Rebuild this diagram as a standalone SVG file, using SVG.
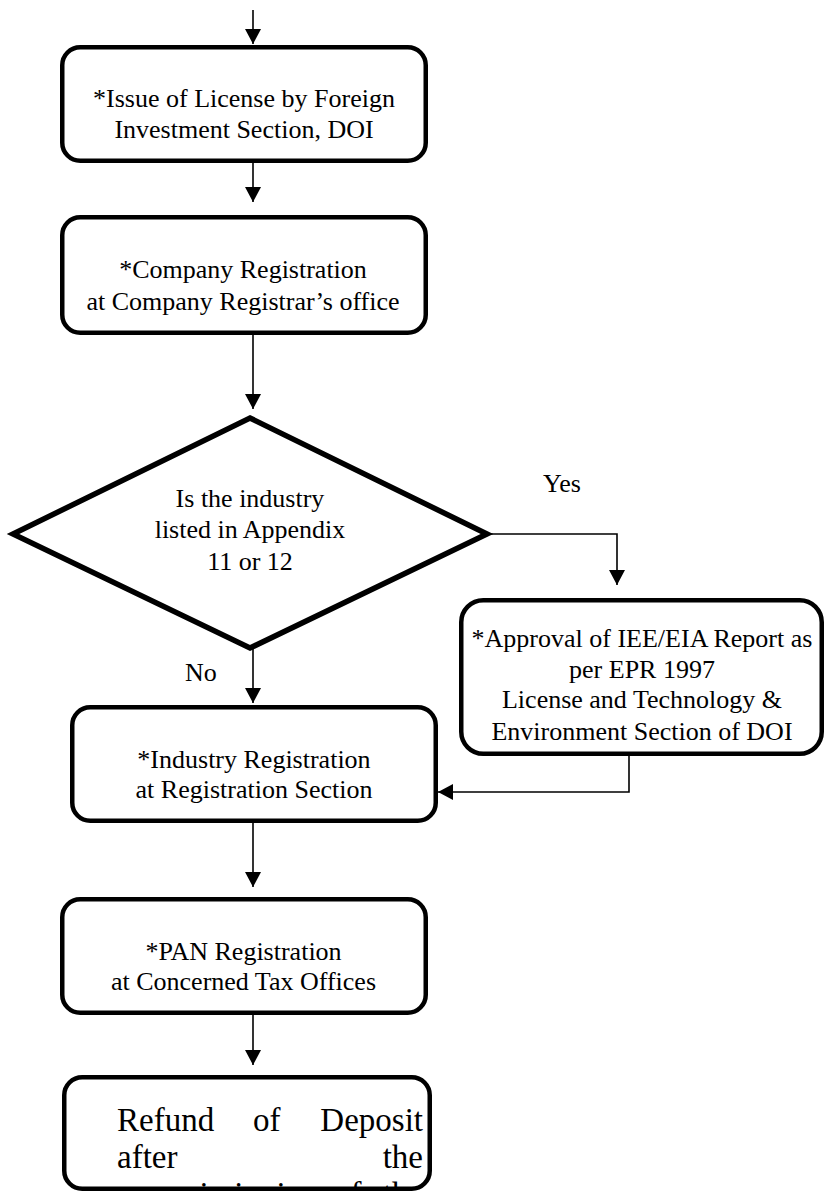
<svg xmlns="http://www.w3.org/2000/svg" width="825" height="1192" viewBox="0 0 825 1192">
<style>
.box{fill:#fff;stroke:#000;stroke-width:4.5}
.dia{fill:#fff;stroke:#000;stroke-width:5.5;stroke-linejoin:miter}
.t{font-family:"Liberation Serif","Times New Roman",serif;font-size:26px;fill:#000;text-anchor:middle}
.l{font-family:"Liberation Serif","Times New Roman",serif;font-size:26px;fill:#000}
.r{font-family:"Liberation Serif","Times New Roman",serif;font-size:33px;fill:#000}
.c{fill:none;stroke:#000;stroke-width:1.6}
</style>
<defs>
<marker id="ah" markerUnits="userSpaceOnUse" markerWidth="16" markerHeight="16" refX="15" refY="8" orient="auto">
<path d="M0,0 L15,8 L0,16 z" fill="#000"/>
</marker>
<clipPath id="rc"><rect x="66" y="1079" width="362" height="108"/></clipPath>
</defs>
<g id="connectors">
<path class="c" d="M253,10 V44" marker-end="url(#ah)"/>
<path class="c" d="M253,163 V202" marker-end="url(#ah)"/>
<path class="c" d="M253,335 V409" marker-end="url(#ah)"/>
<path class="c" d="M487,534 H617 V585" marker-end="url(#ah)"/>
<path class="c" d="M253,648 V703" marker-end="url(#ah)"/>
<path class="c" d="M629,756 V792 H438" marker-end="url(#ah)"/>
<path class="c" d="M253,823 V887" marker-end="url(#ah)"/>
<path class="c" d="M253,1015 V1065" marker-end="url(#ah)"/>
<text class="l" x="543" y="492">Yes</text>
<text class="l" x="185" y="681">No</text>
</g>
<g id="license">
<rect class="box" x="62.25" y="47.25" width="363.5" height="113.5" rx="18"/>
<text class="t" x="244" y="107">*Issue of License by Foreign</text>
<text class="t" x="244" y="138">Investment Section, DOI</text>
</g>
<g id="company">
<rect class="box" x="62.25" y="217.25" width="363.5" height="115.5" rx="18"/>
<text class="t" x="243" y="278">*Company Registration</text>
<text class="t" x="243" y="310">at Company Registrar’s office</text>
</g>
<g id="decision">
<polygon class="dia" points="250,418 487,534 250,648 13,534"/>
<text class="t" x="250" y="507">Is the industry</text>
<text class="t" x="250" y="538">listed in Appendix</text>
<text class="t" x="250" y="570">11 or 12</text>
</g>
<g id="approval">
<rect class="box" x="461.25" y="600.25" width="360.5" height="153.5" rx="22"/>
<text class="t" x="642" y="647">*Approval of IEE/EIA Report as</text>
<text class="t" x="642" y="678">per EPR 1997</text>
<text class="t" x="642" y="708">License and Technology &amp;</text>
<text class="t" x="642" y="740">Environment Section of DOI</text>
</g>
<g id="industry">
<rect class="box" x="72.25" y="707.25" width="363.5" height="113.5" rx="18"/>
<text class="t" x="254" y="768">*Industry Registration</text>
<text class="t" x="254" y="798">at Registration Section</text>
</g>
<g id="pan">
<rect class="box" x="62.25" y="899.25" width="363.5" height="113.5" rx="18"/>
<text class="t" x="243.5" y="960">*PAN Registration</text>
<text class="t" x="243.5" y="990">at Concerned Tax Offices</text>
</g>
<g id="refund">
<rect class="box" x="64.25" y="1077.25" width="365.5" height="111.5" rx="18"/>
<g clip-path="url(#rc)">
<text class="r" x="117" y="1131">Refund</text>
<text class="r" x="253" y="1131">of</text>
<text class="r" x="423" y="1131" text-anchor="end">Deposit</text>
<text class="r" x="117" y="1168">after</text>
<text class="r" x="423" y="1168" text-anchor="end">the</text>
<text class="r" x="117" y="1205">commissioning</text>
<text class="r" x="334" y="1205">of</text>
<text class="r" x="423" y="1205" text-anchor="end">the</text>
</g>
</g>
</svg>
